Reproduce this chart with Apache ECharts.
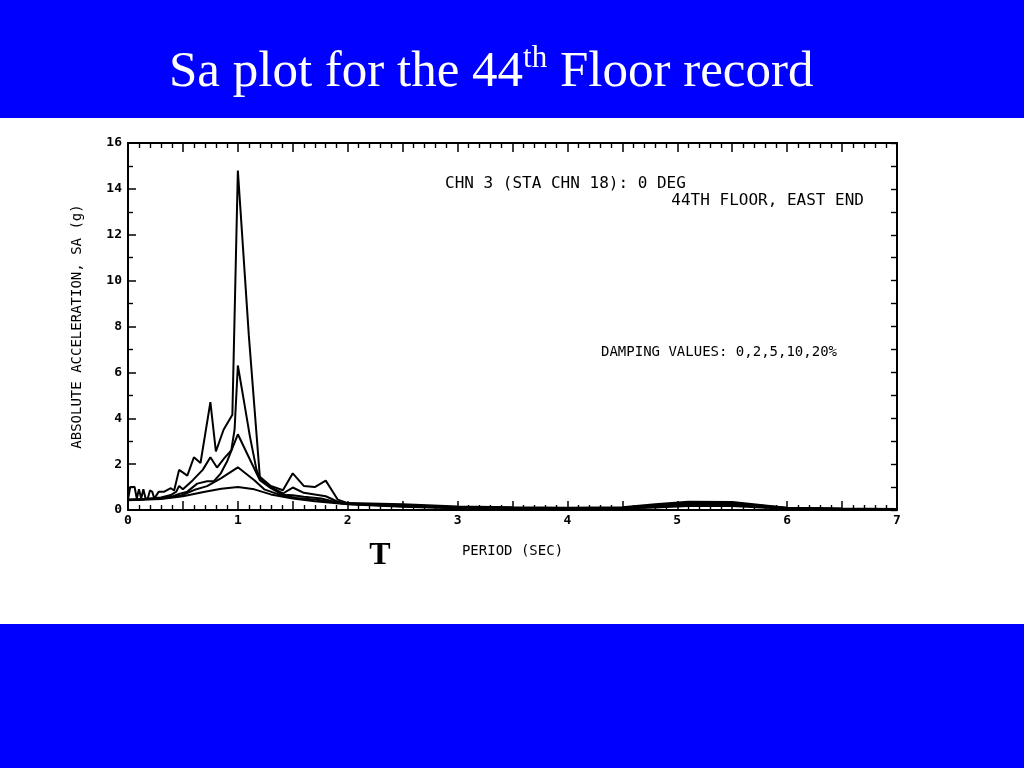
<!DOCTYPE html>
<html>
<head>
<meta charset="utf-8">
<script src="https://cdn.jsdelivr.net/npm/echarts@6/dist/echarts.min.js"></script>
<style>
html,body{margin:0;padding:0;background:#fff;}
#chart{width:1024px;height:768px;}
</style>
</head>
<body>
<div id="chart"></div>
<script>
// ---- data (period in sec, Sa in g) ----
var xTickLabels = ['0','1','2','3','4','5','6','7'];
var yTickLabels = ['0','2','4','6','8','10','12','14','16'];
var dampingValues = ['0%','2%','5%','10%','20%'];

var damp0 = [[0,0.45],[0.02,1.0],[0.06,1.0],[0.08,0.5],[0.1,0.9],[0.12,0.5],[0.14,0.9],[0.16,0.5],[0.18,0.5],[0.2,0.85],[0.22,0.8],[0.24,0.5],[0.28,0.8],[0.33,0.8],[0.39,0.95],[0.42,0.85],[0.465,1.75],[0.54,1.5],[0.6,2.3],[0.66,2.05],[0.75,4.7],[0.8,2.55],[0.87,3.5],[0.95,4.15],[1.0,14.8],[1.1,7.6],[1.2,1.45],[1.3,1.05],[1.41,0.86],[1.5,1.6],[1.6,1.05],[1.7,1.0],[1.8,1.28],[1.91,0.45],[2.0,0.3],[2.5,0.25],[3.0,0.15],[3.5,0.12],[4.0,0.1],[4.5,0.12],[4.8,0.25],[5.1,0.36],[5.5,0.35],[5.8,0.2],[6.0,0.1],[6.5,0.06],[7.0,0.04]];
var damp2 = [[0,0.45],[0.1,0.45],[0.2,0.5],[0.3,0.55],[0.39,0.65],[0.44,0.8],[0.465,1.05],[0.5,0.9],[0.59,1.3],[0.68,1.75],[0.75,2.3],[0.81,1.85],[0.875,2.25],[0.94,2.6],[0.97,3.5],[1.0,6.3],[1.05,4.9],[1.11,3.2],[1.17,1.75],[1.2,1.4],[1.3,1.0],[1.41,0.72],[1.5,0.98],[1.6,0.75],[1.7,0.68],[1.8,0.6],[1.91,0.36],[2.0,0.28],[2.5,0.2],[3.0,0.12],[3.5,0.1],[4.0,0.09],[4.5,0.1],[4.8,0.2],[5.1,0.3],[5.5,0.3],[5.8,0.17],[6.0,0.09],[6.5,0.05],[7.0,0.03]];
var damp5 = [[0,0.45],[0.2,0.48],[0.3,0.52],[0.4,0.58],[0.465,0.7],[0.54,0.8],[0.63,1.15],[0.72,1.25],[0.78,1.25],[0.845,1.6],[0.905,2.15],[1.0,3.3],[1.09,2.4],[1.2,1.3],[1.3,0.95],[1.41,0.66],[1.5,0.64],[1.6,0.58],[1.76,0.5],[1.9,0.33],[2.0,0.27],[2.5,0.18],[3.0,0.1],[3.5,0.09],[4.0,0.08],[4.5,0.09],[4.8,0.17],[5.1,0.26],[5.5,0.26],[5.8,0.15],[6.0,0.08],[6.5,0.04],[7.0,0.03]];
var damp10 = [[0,0.45],[0.3,0.5],[0.48,0.62],[0.6,0.87],[0.72,1.04],[0.845,1.38],[1.0,1.86],[1.15,1.3],[1.24,0.9],[1.39,0.65],[1.54,0.52],[1.76,0.42],[1.9,0.32],[2.0,0.26],[2.5,0.16],[3.0,0.09],[3.5,0.08],[4.0,0.07],[4.5,0.08],[4.8,0.14],[5.1,0.22],[5.5,0.22],[5.8,0.13],[6.0,0.07],[6.5,0.04],[7.0,0.02]];
var damp20 = [[0,0.42],[0.3,0.48],[0.5,0.6],[0.7,0.8],[0.85,0.93],[1.0,1.0],[1.15,0.9],[1.3,0.68],[1.5,0.5],[1.7,0.38],[2.0,0.25],[2.5,0.14],[3.0,0.08],[3.5,0.07],[4.0,0.06],[4.5,0.07],[4.8,0.11],[5.1,0.17],[5.5,0.17],[5.8,0.1],[6.0,0.06],[6.5,0.03],[7.0,0.02]];
var curves = [damp0, damp2, damp5, damp10, damp20];

var mono = "'DejaVu Sans Mono', 'Liberation Mono', monospace";
var serif = "'Liberation Serif', 'Times New Roman', serif";
var chart = echarts.init(document.getElementById('chart'), null, {renderer: 'canvas'});

function xAx(pos, showLabel) {
  return {
    type: 'value', position: pos, min: 0, max: 7, interval: 0.5,
    axisLine: {show: true, onZero: false, lineStyle: {color: '#000', width: 2}},
    axisTick: {show: true, inside: true, length: 9, lineStyle: {color: '#000', width: 1.5}},
    minorTick: {show: true, splitNumber: 5, length: 5, lineStyle: {color: '#000', width: 1.4}},
    splitLine: {show: false}, minorSplitLine: {show: false},
    axisLabel: {show: showLabel, color: '#000', fontFamily: mono, fontWeight: 'bold', fontSize: 13, margin: 4,
      formatter: function (v) { var i = xTickLabels.indexOf(String(v)); return i >= 0 ? xTickLabels[i] : ''; }},
    name: showLabel ? 'PERIOD (SEC)' : '', nameLocation: 'middle', nameGap: 34,
    nameTextStyle: {color: '#000', fontFamily: mono, fontSize: 14}
  };
}

var option = {
  backgroundColor: '#fff',
  animation: false,
  title: {
    text: '{a|Sa plot for the 44}{s|th}{a| Floor record}',
    left: 164, top: 38,
    textStyle: {
      fontWeight: 'normal',
      rich: {
        a: {fontFamily: serif, fontWeight: 'normal', fontSize: 51, color: '#fff', lineHeight: 60},
        s: {fontFamily: serif, fontWeight: 'normal', fontSize: 31, color: '#fff', verticalAlign: 'top', lineHeight: 38}
      }
    },
    z: 10
  },
  graphic: [
    {type: 'rect', shape: {x: 0, y: 0, width: 1024, height: 118}, style: {fill: '#0000ff'}, z: -10, silent: true},
    {type: 'rect', shape: {x: 0, y: 624, width: 1024, height: 144}, style: {fill: '#0000ff'}, z: -10, silent: true},
    {type: 'text', style: {x: 380, y: 556, text: 'T', font: "bold 32px " + serif, fill: '#000', textAlign: 'center', textVerticalAlign: 'middle'}},
    {type: 'text', style: {x: 445, y: 184, text: 'CHN 3 (STA CHN 18): 0 DEG', font: '16px ' + mono, fill: '#000', textAlign: 'left', textVerticalAlign: 'middle'}},
    {type: 'text', style: {x: 864, y: 201, text: '44TH FLOOR, EAST END', font: '16px ' + mono, fill: '#000', textAlign: 'right', textVerticalAlign: 'middle'}},
    {type: 'text', style: {x: 601, y: 352, text: 'DAMPING VALUES: 0,2,5,10,20%', font: '14px ' + mono, fill: '#000', textAlign: 'left', textVerticalAlign: 'middle'}}
  ],
  grid: {left: 128, right: 127, top: 143, bottom: 258, containLabel: false},
  xAxis: [xAx('bottom', true), xAx('top', false)],
  yAxis: [
    {
      type: 'value', position: 'left', min: 0, max: 16, interval: 2,
      axisLine: {show: true, onZero: false, lineStyle: {color: '#000', width: 2}},
      axisTick: {show: true, inside: true, length: 8, lineStyle: {color: '#000', width: 1.5}},
      minorTick: {show: true, splitNumber: 2, length: 5, lineStyle: {color: '#000', width: 1.4}},
      splitLine: {show: false}, minorSplitLine: {show: false},
      axisLabel: {color: '#000', fontFamily: mono, fontWeight: 'bold', fontSize: 13, margin: 6,
        formatter: function (v) { var i = yTickLabels.indexOf(String(v)); return i >= 0 ? yTickLabels[i] : ''; }},
      name: 'ABSOLUTE ACCELERATION, SA (g)', nameLocation: 'middle', nameGap: 44, nameRotate: 90,
      nameTextStyle: {color: '#000', fontFamily: mono, fontSize: 14}
    },
    {
      type: 'value', position: 'right', min: 0, max: 16, interval: 1,
      axisLine: {show: true, onZero: false, lineStyle: {color: '#000', width: 2}},
      axisTick: {show: true, inside: true, length: 6, lineStyle: {color: '#000', width: 1.4}},
      splitLine: {show: false},
      axisLabel: {show: false}
    }
  ],
  series: curves.map(function (d, i) {
    return {
      name: dampingValues[i], type: 'line', xAxisIndex: 0, yAxisIndex: 0,
      data: d, showSymbol: false, symbol: 'none', smooth: false,
      lineStyle: {color: '#000', width: 2}, z: 3
    };
  })
};
chart.setOption(option);
</script>
</body>
</html>
